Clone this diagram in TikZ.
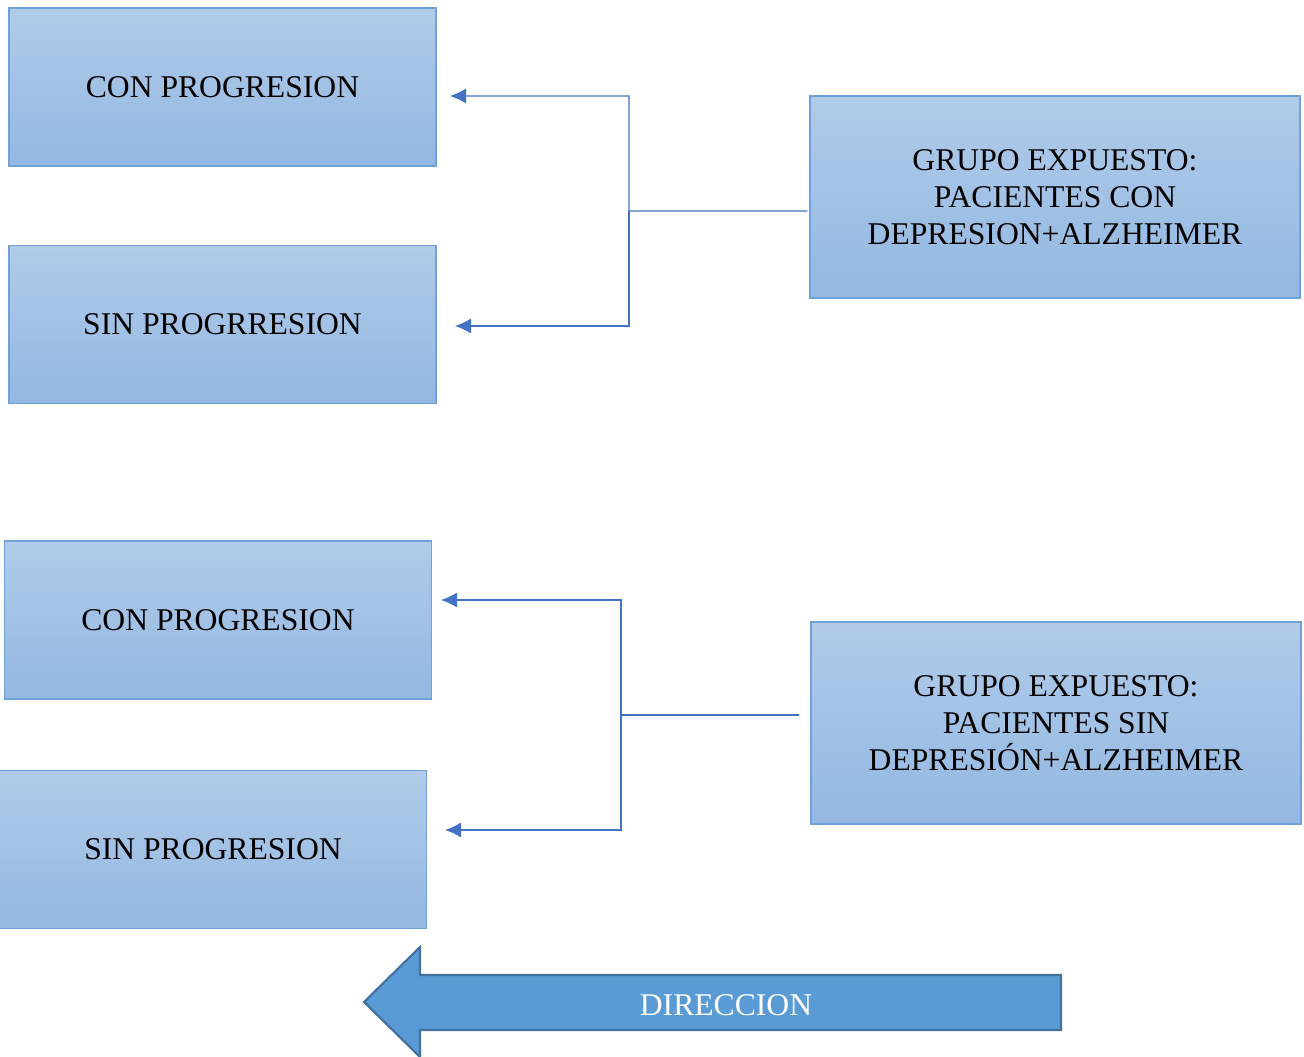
\documentclass[tikz,border=0pt]{standalone}
\usepackage{fontspec}
\setmainfont{Liberation Serif}
\usepackage{xcolor}
\usetikzlibrary{arrows.meta,calc,positioning}

\definecolor{cajaarriba}{HTML}{B1CBE9}
\definecolor{cajaabajo}{HTML}{93B8E2}
\definecolor{cajaborde}{HTML}{6FA2D9}
\definecolor{linea}{HTML}{4472C4}
\definecolor{dirfondo}{HTML}{5B9BD5}
\definecolor{dirborde}{HTML}{41719C}

\begin{document}
\begin{tikzpicture}[
  node distance=1.56cm,
  caja/.style={rectangle,draw=cajaborde,line width=0.8pt,top color=cajaarriba,bottom color=cajaabajo,
    minimum width=8.54cm,minimum height=3.16cm,inner sep=0pt,align=center,font=\fontsize{18}{21}\selectfont},
  grupo/.style={caja,minimum width=9.8cm,minimum height=4.04cm},
  flecha/.style={-{Latex[length=3.2mm,width=3mm]},draw=linea,line width=0.6pt},
  direccion/.style={draw=dirborde,fill=dirfondo,line width=1.2pt,line join=miter}
]
  \useasboundingbox (0,0) rectangle (26.08,-21.14);

  % primer grupo
  \node[caja] (con1) at (4.45,-1.74) {CON PROGRESION};
  \node[caja,below=of con1] (sin1) {SIN PROGRRESION};
  \node[grupo] (exp1) at (21.1,-3.94) {GRUPO EXPUESTO:\\PACIENTES CON\\DEPRESION+ALZHEIMER};

  \coordinate (s1) at ($(exp1.west)+(-0.04,-0.28)$);
  \coordinate (k1) at (12.58,-4.22);
  \coordinate (t1) at (9.0,-1.92);
  \coordinate (t2) at (9.1,-6.52);
  \draw[flecha] (s1) -- (k1) |- (t1);
  \draw[flecha] (k1) |- (t2);

  % segundo grupo
  \node[caja] (con2) at (4.36,-12.4) {CON PROGRESION};
  \node[caja,below=1.4cm of con2,xshift=-0.1cm] (sin2) {SIN PROGRESION};
  \node[grupo] (exp2) at (21.12,-14.46) {GRUPO EXPUESTO:\\PACIENTES SIN\\DEPRESIÓN+ALZHEIMER};

  \coordinate (s2) at ($(exp2.west)+(-0.22,0.16)$);
  \coordinate (k2) at (12.42,-14.3);
  \coordinate (t3) at (8.82,-12.0);
  \coordinate (t4) at (8.9,-16.6);
  \draw[flecha] (s2) -- (k2) |- (t3);
  \draw[flecha] (k2) |- (t4);

  % flecha de direccion
  \draw[direccion] (7.28,-20.04) -- (8.4,-18.94) -- (8.4,-19.5) -- (21.22,-19.5)
    -- (21.22,-20.6) -- (8.4,-20.6) -- (8.4,-21.14) -- cycle;
  \node[text=white,font=\fontsize{18}{21}\selectfont] (dir) at (14.52,-20.1) {DIRECCION};
\end{tikzpicture}
\end{document}
